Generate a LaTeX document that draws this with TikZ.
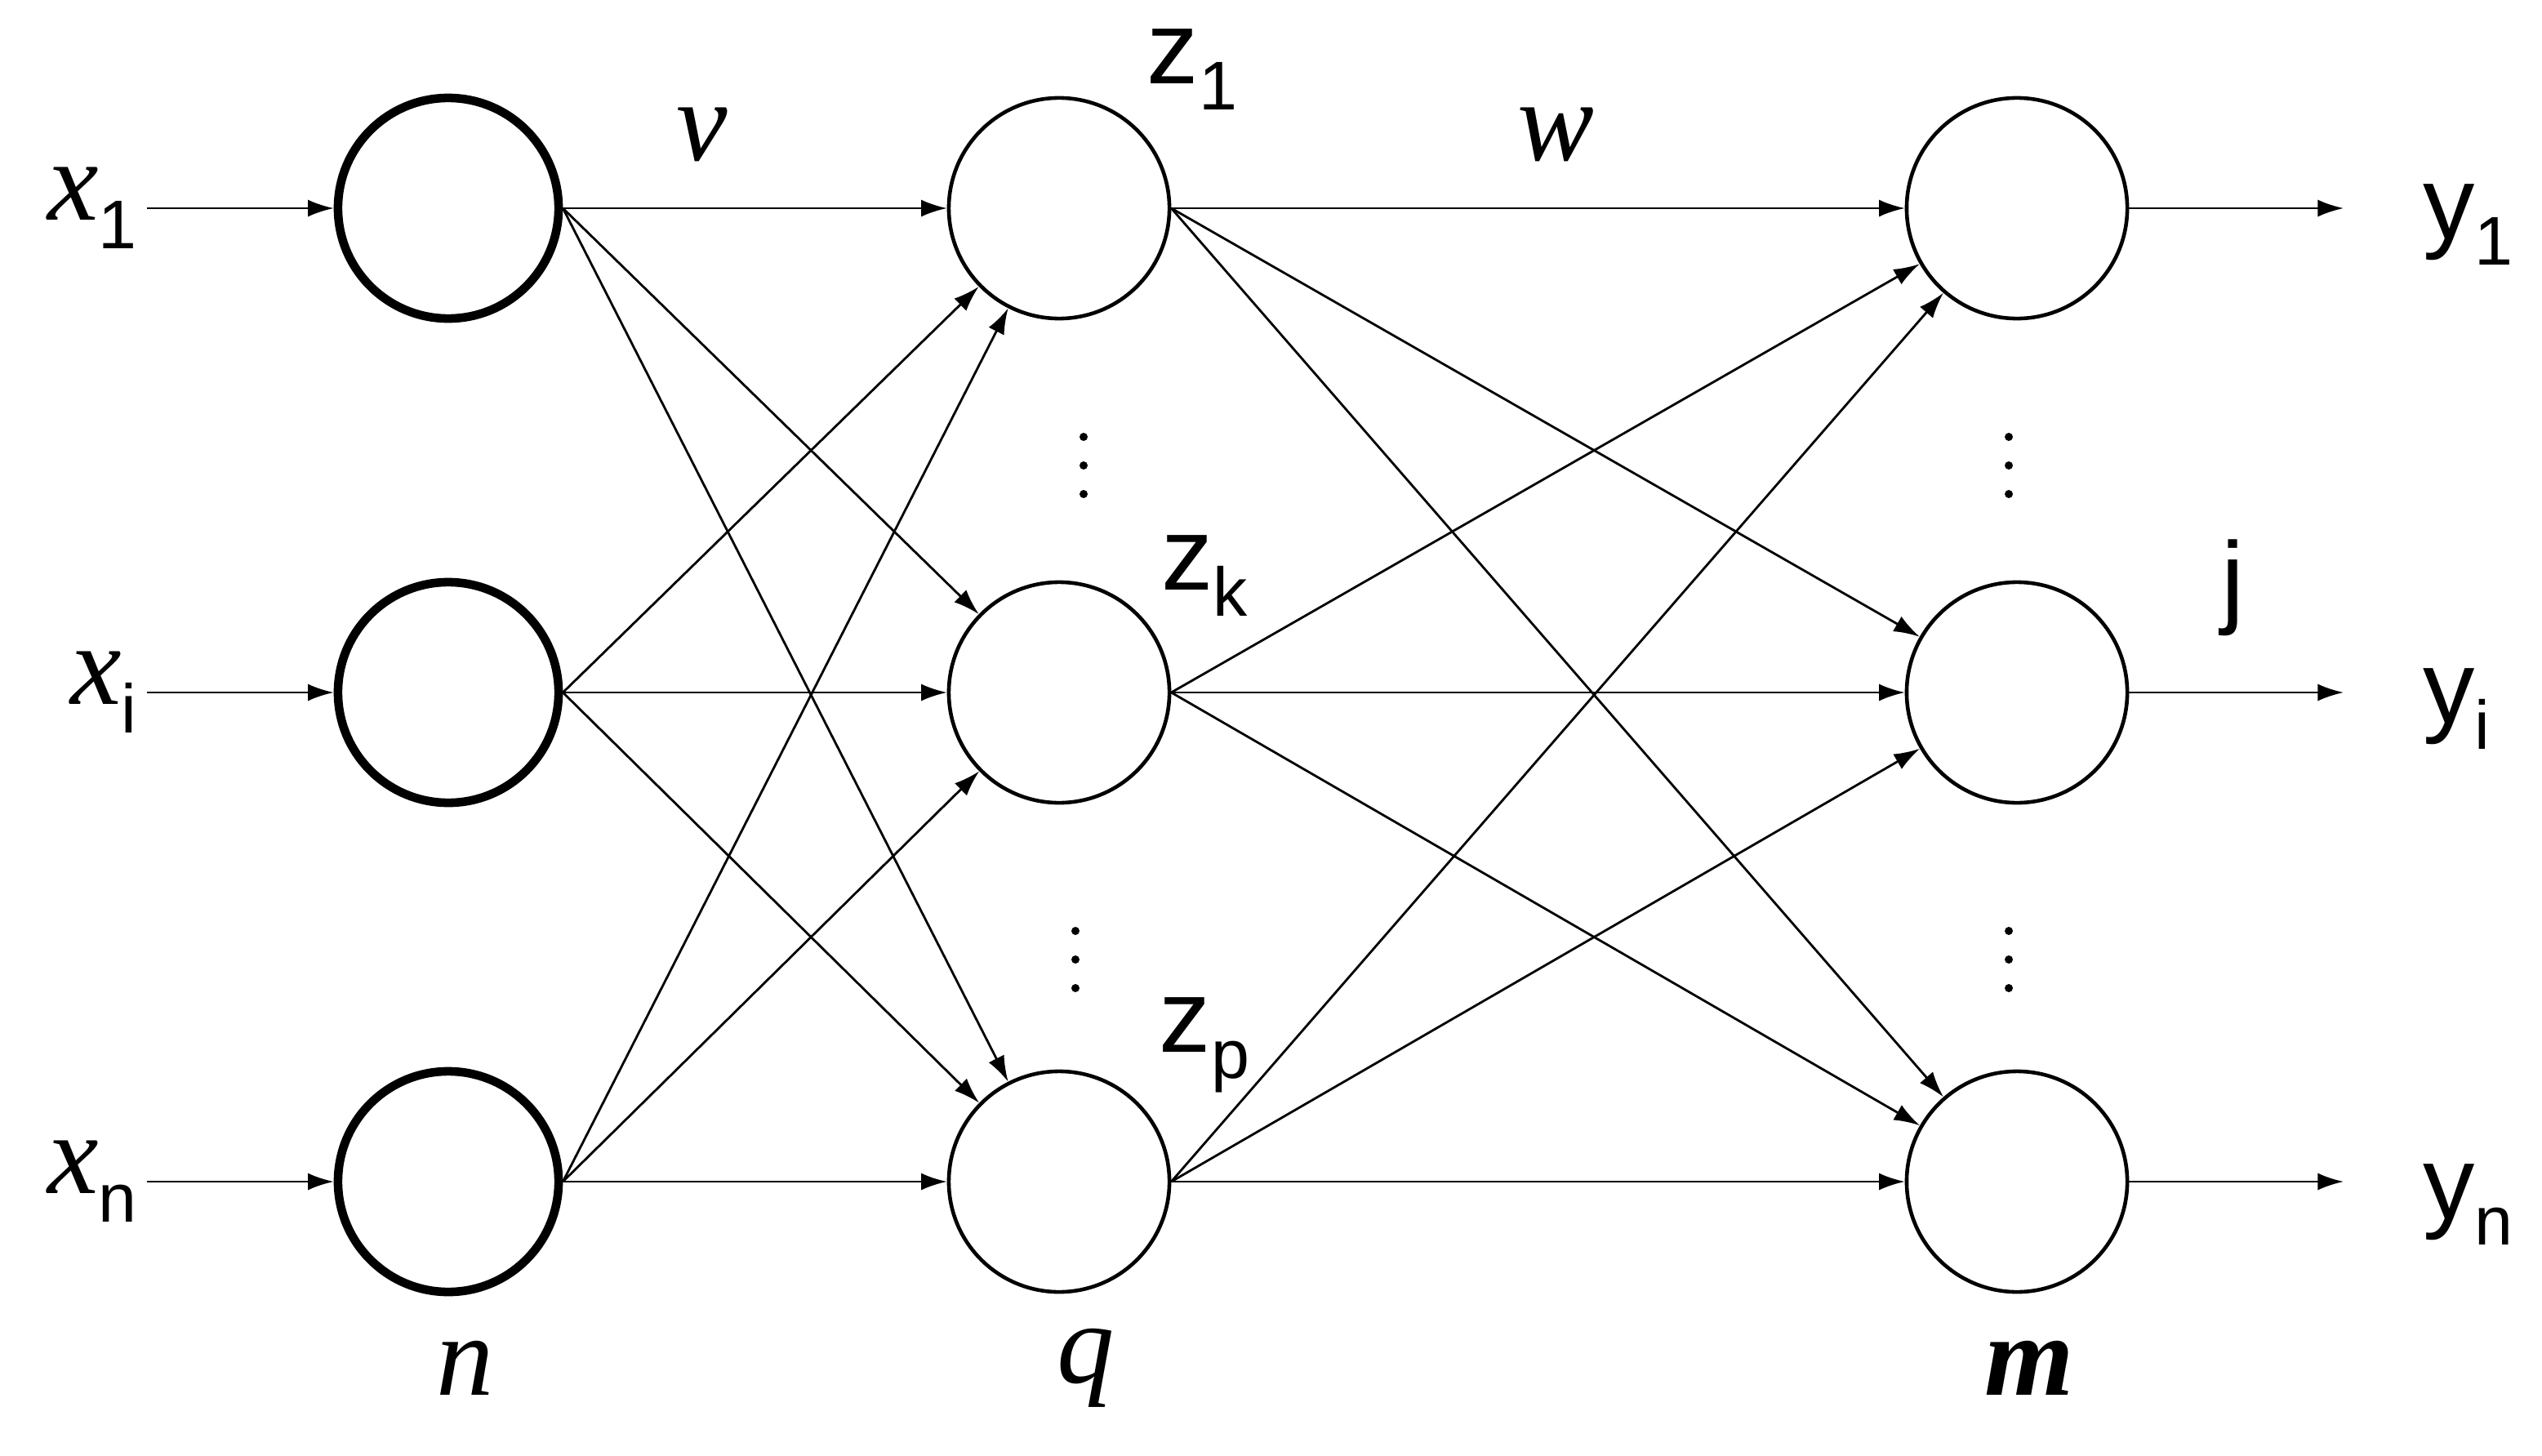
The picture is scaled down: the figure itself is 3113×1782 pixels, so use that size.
\documentclass[tikz,border=0pt]{standalone}
\usepackage{fontspec}
\setmainfont{Liberation Sans}
\newfontfamily\serifit{Liberation Serif}
\usetikzlibrary{arrows.meta}
\newcommand{\sbs}[1]{\raisebox{-0.25em}{\normalfont\fontsize{24}{26}\selectfont #1}}
\begin{document}
\begin{tikzpicture}[x=0.01cm,y=-0.01cm,
  inn/.style={circle,draw,line width=3pt,minimum size=2.7cm,inner sep=0},
  neu/.style={circle,draw,line width=1.3pt,minimum size=2.7cm,inner sep=0},
  con/.style={-{Latex[length=9pt,width=6pt]},line width=0.8pt},
  lab/.style={font=\fontsize{36}{38}\selectfont},
  ilab/.style={font=\fontsize{40}{42}\selectfont\serifit\itshape}]
\useasboundingbox (0,0) rectangle (3113,1782);
\foreach \n/\y in {1/255,2/848,3/1447}{
  \node[inn] (a\n) at (549,\y) {};
  \node[neu] (b\n) at (1297,\y) {};
  \node[neu] (c\n) at (2470,\y) {};
}
\foreach \i in {1,2,3}{\foreach \j in {1,2,3}{
  \draw[con] (a\i.east) -- (b\j);
  \draw[con] (b\i.east) -- (c\j);
}}
\node[ilab,anchor=east] (x1) at (180,255) {x\sbs{1}};
\node[ilab,anchor=east] (xi) at (180,848) {x\sbs{i}};
\node[ilab,anchor=east] (xn) at (180,1447) {x\sbs{n}};
\draw[con] (x1.east) -- (a1);
\draw[con] (xi.east) -- (a2);
\draw[con] (xn.east) -- (a3);
\coordinate (o1) at (2870,255);
\coordinate (o2) at (2870,848);
\coordinate (o3) at (2870,1447);
\foreach \n in {1,2,3}{\draw[con] (c\n) -- (o\n);}
\node[lab,anchor=west] (y1) at (2955,275) {y\sbs{1}};
\node[lab,anchor=west] (yi) at (2955,868) {y\sbs{i}};
\node[lab,anchor=west] (yn) at (2955,1475) {y\sbs{n}};
\node[lab] (j) at (2735,720) {j};
\node[ilab] (v) at (860,165) {v};
\node[ilab] (w) at (1905,165) {w};
\node[lab] (z1) at (1460,85) {z\sbs{1}};
\node[lab] (zk) at (1475,705) {z\sbs{k}};
\node[lab] (zp) at (1475,1280) {z\sbs{p}};
\node[ilab] (n) at (570,1675) {n};
\node[ilab] (q) at (1330,1675) {q};
\node[ilab,font=\fontsize{40}{42}\selectfont\serifit\bfseries\itshape] (m) at (2485,1675) {m};
\foreach \x/\y in {1327/570,1317/1175,2460/570,2460/1175}{
  \foreach \d in {-35,0,35}{\fill (\x,\y+\d) circle (5);}}
\end{tikzpicture}
\end{document}
